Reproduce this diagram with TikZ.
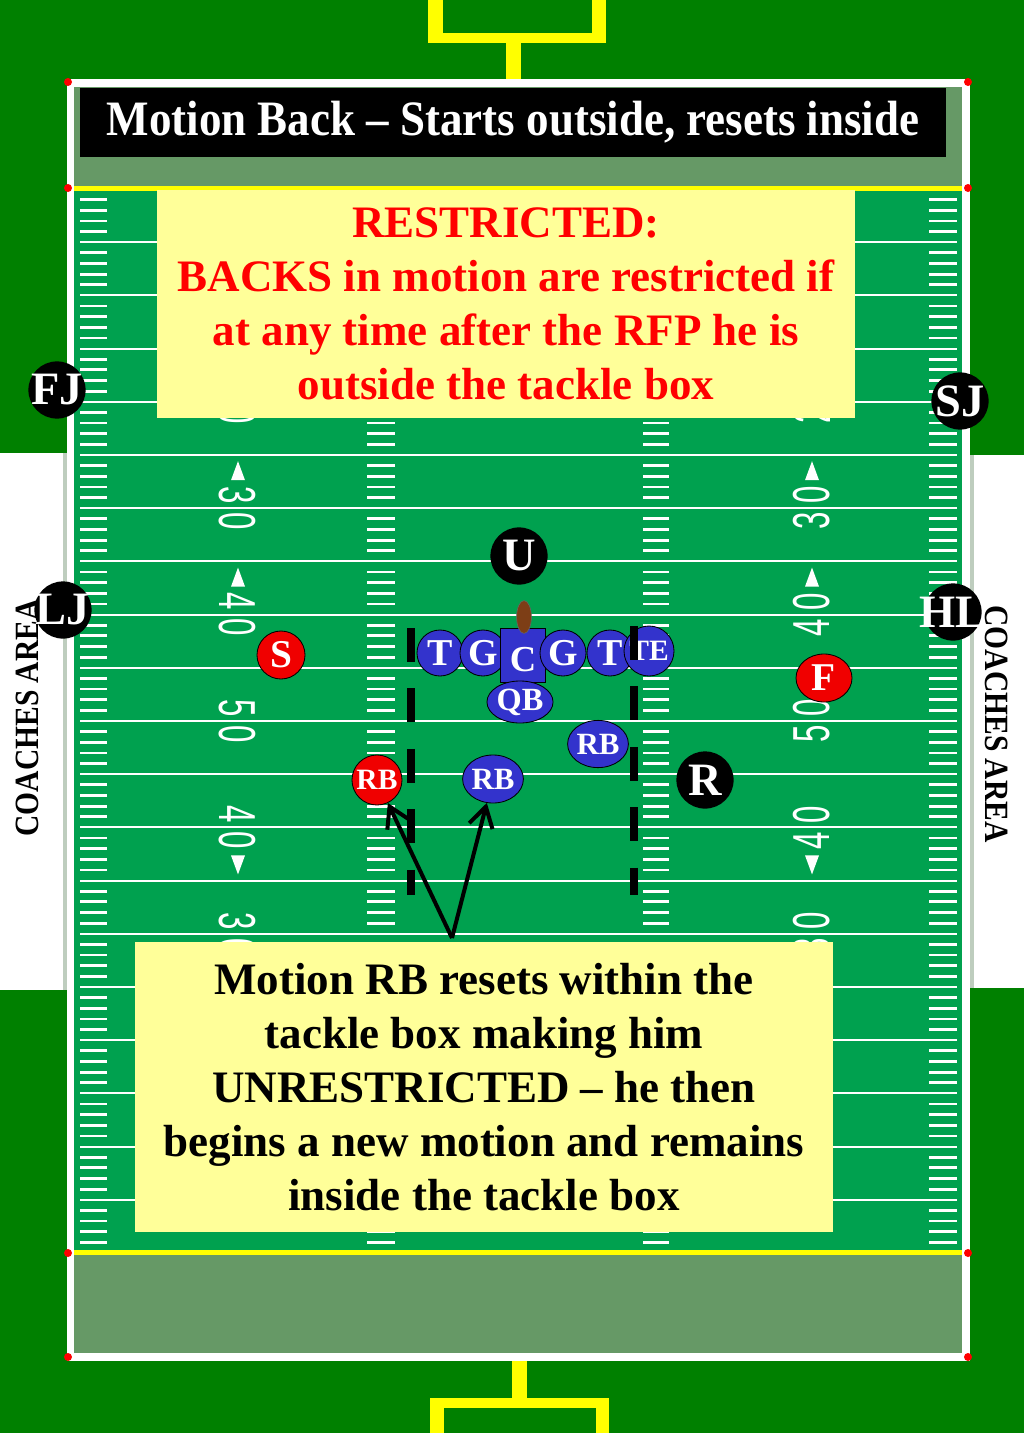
\documentclass[tikz,border=0pt]{standalone}
\usepackage{fontspec}
\setmainfont{Liberation Serif}
\newfontfamily\numfont{Liberation Sans}
\usetikzlibrary{positioning,shapes.geometric,arrows.meta}

\definecolor{outgreen}{RGB}{0,128,0}
\definecolor{turf}{RGB}{0,161,79}
\definecolor{endzone}{RGB}{102,153,102}
\definecolor{postyel}{RGB}{255,255,0}
\definecolor{notefill}{RGB}{255,255,153}
\definecolor{offblue}{RGB}{51,51,204}
\definecolor{defred}{RGB}{240,0,0}
\definecolor{sidegrey}{RGB}{190,205,190}
\definecolor{ballbrown}{RGB}{125,62,22}

\begin{document}
\begin{tikzpicture}[x=0.025cm,y=-0.025cm,
  lineman/.style={circle,draw=black,fill=offblue,text=white,inner sep=0pt,minimum size=1.15cm,line width=0.6pt,font=\fontsize{27}{27}\selectfont\bfseries},
  back/.style={ellipse,draw=black,fill=offblue,text=white,inner sep=0pt,line width=0.6pt,font=\fontsize{22}{22}\selectfont\bfseries},
  redp/.style={ellipse,draw=black,fill=defred,text=white,inner sep=0pt,line width=0.6pt,font=\fontsize{28}{28}\selectfont\bfseries},
  official/.style={circle,fill=black,text=white,inner sep=0pt,minimum size=1.43cm,font=\fontsize{33}{33}\selectfont\bfseries},
  note/.style={fill=notefill,align=center,inner sep=0pt,minimum width=17.45cm,font=\fontsize{32}{38.4}\selectfont\bfseries},
  yardnum/.style={text=white,inner sep=0pt,font=\numfont\fontsize{37}{37}\selectfont},
  coach/.style={inner sep=0pt,font=\fontsize{21}{21}\selectfont\bfseries},
  boxline/.style={line width=0.2cm,dash pattern=on 0.85cm off 0.66cm},
  arr/.style={-{Straight Barb[length=5mm,width=6mm]},line width=0.1cm}]
\useasboundingbox (0,0) rectangle (1024,1433);
% surroundings
\fill[outgreen] (0,0) rectangle (1024,1433);
\fill[white] (0,453) rectangle (63,990);
\fill[sidegrey] (63,453) rectangle (67,990);
\fill[white] (974,455) rectangle (1024,988);
\fill[sidegrey] (970,455) rectangle (974,988);
% goal posts
\fill[postyel] (428,0) rectangle (443,43);
\fill[postyel] (592,0) rectangle (606,43);
\fill[postyel] (428,33) rectangle (606,43);
\fill[postyel] (506,43) rectangle (521,83);
\fill[postyel] (430,1398) rectangle (444,1433);
\fill[postyel] (596,1398) rectangle (609,1433);
\fill[postyel] (430,1398) rectangle (609,1408);
\fill[postyel] (512,1357) rectangle (527,1398);
% end zones and field
\fill[endzone] (70,83) rectangle (966,189);
\fill[turf] (70,189) rectangle (966,1253);
\fill[endzone] (70,1253) rectangle (966,1357);
\foreach \k in {1,...,19}
  \draw[white,line width=0.05cm] (80,{189+53.2*\k}) -- (957,{189+53.2*\k});
\foreach \j in {1,...,99}{
  \pgfmathtruncatemacro\rem{mod(\j,5)}
  \ifnum\rem>0
    \foreach \xa/\xb in {80/107,367/395,643/669,929/957}
      \draw[white,line width=0.07cm] (\xa,{189+10.64*\j}) -- (\xb,{189+10.64*\j});
  \fi}
% yard numbers
\foreach \k/\tens in {2/1,4/2,6/3,8/4,10/5,12/4,14/3,16/2,18/1}{
  \node[yardnum,rotate=-90] (numLa\k) at (237,{189+53.2*\k-13}) {\scalebox{0.6}[1]{\tens}};
  \node[yardnum,rotate=-90] (numLb\k) at (237,{189+53.2*\k+13}) {\scalebox{0.6}[1]{0}};
  \node[yardnum,rotate=90] (numRa\k) at (812,{189+53.2*\k+13}) {\scalebox{0.6}[1]{\tens}};
  \node[yardnum,rotate=90] (numRb\k) at (812,{189+53.2*\k-13}) {\scalebox{0.6}[1]{0}};
}
\foreach \k in {2,4,6,8}
  \foreach \xc in {238,812}
    \fill[white] (\xc-7,{189+53.2*\k-28}) -- (\xc+7,{189+53.2*\k-28}) -- (\xc,{189+53.2*\k-47}) -- cycle;
\foreach \k in {12,14,16,18}
  \foreach \xc in {238,812}
    \fill[white] (\xc-7,{189+53.2*\k+28}) -- (\xc+7,{189+53.2*\k+28}) -- (\xc,{189+53.2*\k+47}) -- cycle;
% goal lines, border, pylons
\fill[postyel] (70,186) rectangle (966,191);
\fill[postyel] (70,1250) rectangle (966,1255);
\draw[white,line width=0.18cm] (70.5,83) rectangle (966,1357);
\foreach \xp in {68,968}
  \foreach \yp in {82,188,1253,1357}
    \fill[red] (\xp,\yp) circle[radius=4];
% texts
\node[fill=black,text=white,inner sep=0pt,minimum width=21.65cm,minimum height=1.725cm,font=\fontsize{32}{32}\selectfont\bfseries] (title) at (513,122.5) {\scalebox{1}[1.1]{Motion Back – Starts outside, resets inside}};
\node[note,text=red,minimum height=5.7cm] (restrict) at (506,304) {RESTRICTED:\\BACKS in motion are restricted if\\at any time after the RFP he is\\outside the tackle box};
\node[note,minimum height=7.25cm] (reset) at (484,1087) {Motion RB resets within the\\tackle box making him\\UNRESTRICTED – he then\\begins a new motion and remains\\inside the tackle box};
\node[coach,rotate=90] (coachL) at (27,718) {\scalebox{1}[1.15]{COACHES AREA}};
\node[coach,rotate=-90] (coachR) at (997,724) {\scalebox{1}[1.15]{COACHES AREA}};
% officials
\node[official] (fj) at (57,390) {\makebox[0pt]{FJ}};
\node[official] (sj) at (960,401) {\makebox[0pt]{SJ}};
\node[official] (u) at (519,556) {U};
\node[official] (lj) at (63,610) {\makebox[0pt]{LJ}};
\node[official] (hl) at (953,612) {\makebox[0pt]{HL}};
\node[official] (r) at (705,780) {R};
% offense
\node[lineman] (lt) at (440,653) {T};
\node[lineman] (lg) at (483,653) {G};
\node[draw=black,fill=offblue,text=white,inner sep=0pt,line width=0.6pt,minimum width=1.125cm,minimum height=1.35cm,text height=0.8cm,text depth=0cm,font=\fontsize{26}{26}\selectfont\bfseries] (ctr) at (523,655) {C};
\node[lineman] (rg) at (563,653) {G};
\node[lineman] (rt) at (610,653) {T};
\node[lineman,minimum size=1.25cm,font=\fontsize{21}{21}\selectfont\bfseries] (te) at (649,651) {TE};
\node[ellipse,fill=ballbrown,draw=black!60,inner sep=0pt,minimum width=0.37cm,minimum height=0.82cm] (ball) at (524,617) {};
\node[back,minimum width=1.25cm,minimum height=1.05cm,font=\fontsize{23}{23}\selectfont\bfseries] (qb) at (520,702) {QB};
\node[back,minimum width=1.45cm,minimum height=1.18cm] (rbwing) at (598,744) {RB};
\node[back,minimum width=1.45cm,minimum height=1.2cm] (rbnew) at (493,779) {RB};
\node[redp,minimum size=1.25cm,font=\fontsize{21}{21}\selectfont\bfseries] (rbold) at (377,780) {\makebox[0pt]{RB}};
% defense
\node[redp,minimum size=1.2cm] (s) at (281,655) {S};
\node[redp,minimum width=1.4cm,minimum height=1.2cm] (f) at (824,678) {F};
% tackle box
\draw[boxline] (411,628) -- (411,895);
\draw[boxline] (634,626) -- (634,895);
% motion arrows
\coordinate (tail) at (452,938);
\draw[arr] (tail) -- (rbold);
\draw[arr] (tail) -- (rbnew);
\end{tikzpicture}
\end{document}
